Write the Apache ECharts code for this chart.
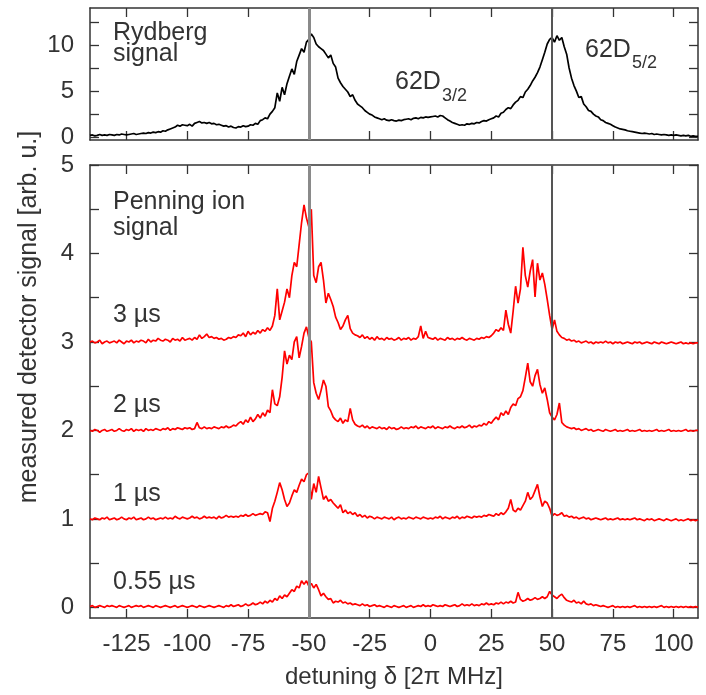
<!DOCTYPE html>
<html>
<head>
<meta charset="utf-8">
<script src="https://cdn.jsdelivr.net/npm/echarts@6/dist/echarts.min.js"></script>
<style>
  html, body { margin: 0; padding: 0; background: #fff; }
  #chart { width: 706px; height: 695px; }
</style>
</head>
<body>
<div id="chart"></div>
<script>
// detuning grid, 1 MHz steps from -140 to 110
const detuning = []
for (let d = -140; d <= 110; d++) detuning.push(d)

// top panel: Rydberg signal
const rydberg = [
  0.2,0.25,0.15,0.2,0.3,0.2,0.25,0.2,0.3,0.25,
  0.2,0.3,0.25,0.35,0.3,0.25,0.3,0.35,0.4,0.3,
  0.35,0.4,0.45,0.4,0.5,0.45,0.55,0.5,0.6,0.55,
  0.7,0.65,0.8,0.9,1.0,1.1,1.3,1.2,1.35,1.3,
  1.25,1.4,1.2,1.5,1.6,1.7,1.55,1.6,1.5,1.6,
  1.45,1.5,1.35,1.4,1.3,1.2,1.25,1.1,1.2,1.05,
  1.0,1.15,1.1,1.25,1.15,1.2,1.35,1.3,1.5,1.4,
  1.8,1.9,2.1,2.0,2.5,2.8,3.2,4.8,3.9,5.4,
  4.6,5.8,6.6,7.4,6.8,8.2,8.9,9.6,9.2,10.3,
  10.6,11.2,10.8,10.1,9.8,9.6,9.4,9.0,8.6,8.9,
  8.0,7.6,6.4,5.9,5.5,5.2,4.9,4.4,4.6,4.0,
  3.6,3.4,3.2,2.9,2.7,2.5,2.4,2.2,2.1,2.0,
  1.9,2.0,1.85,1.8,1.9,1.8,1.75,1.85,1.8,1.9,
  1.95,2.0,1.9,2.05,2.1,2.0,2.15,2.1,2.2,2.15,
  2.2,2.25,2.3,2.2,2.35,2.3,2.1,1.9,1.75,1.6,
  1.5,1.4,1.3,1.35,1.3,1.45,1.4,1.5,1.45,1.6,
  1.55,1.7,1.8,1.75,1.9,2.0,2.1,2.3,2.2,2.6,
  2.7,3.0,3.2,3.1,3.5,3.8,4.0,4.4,4.3,4.9,
  5.2,5.6,6.1,6.5,7.0,7.6,8.4,9.2,10.1,10.6,
  10.8,10.3,11.0,10.5,10.8,9.8,9.0,7.5,6.4,5.6,
  5.0,4.3,4.4,3.6,3.3,2.9,2.8,2.5,2.3,2.2,
  1.9,1.8,1.6,1.5,1.4,1.25,1.1,1.0,0.9,0.85,
  0.8,0.7,0.65,0.6,0.55,0.5,0.45,0.4,0.45,0.4,
  0.35,0.4,0.3,0.35,0.3,0.25,0.3,0.25,0.2,0.25,
  0.2,0.25,0.2,0.15,0.2,0.15,0.2,0.1,0.15,0.1,0.1
]

// bottom panel: Penning ion signal (curves offset by 3, 2, 1, 0)
const penning3us = [
  3.0,3.01,2.99,3.0,3.02,2.98,3.0,3.01,2.99,3.0,
  3.01,2.99,3.02,3.0,2.98,3.01,3.0,3.02,2.99,3.01,
  3.0,3.02,3.01,2.99,3.03,3.0,3.02,3.01,3.04,3.02,
  3.01,3.03,3.02,3.0,3.04,3.02,3.03,3.01,3.05,3.02,
  3.03,3.04,3.02,3.05,3.03,3.08,3.04,3.06,3.09,3.05,
  3.06,3.04,3.05,3.03,3.04,3.02,3.03,3.05,3.04,3.06,
  3.05,3.08,3.07,3.1,3.06,3.12,3.08,3.11,3.09,3.13,
  3.1,3.14,3.12,3.16,3.13,3.18,3.3,3.6,3.25,3.35,
  3.45,3.6,3.5,3.75,3.9,3.85,4.1,4.35,4.55,4.4,
  4.3,4.5,3.75,3.67,3.85,3.9,3.7,3.44,3.55,3.48,
  3.4,3.28,3.22,3.14,3.18,3.25,3.3,3.15,3.1,3.08,
  3.07,3.05,3.08,3.04,3.06,3.03,3.05,3.02,3.06,3.03,
  3.04,3.02,3.05,3.03,3.04,3.02,3.03,3.05,3.02,3.04,
  3.03,3.05,3.02,3.04,3.03,3.06,3.18,3.04,3.12,3.05,
  3.04,3.03,3.05,3.02,3.04,3.03,3.02,3.05,3.03,3.04,
  3.02,3.04,3.03,3.05,3.03,3.02,3.04,3.03,3.02,3.04,
  3.03,3.05,3.04,3.06,3.05,3.07,3.1,3.14,3.12,3.16,
  3.13,3.36,3.2,3.1,3.35,3.63,3.44,3.6,4.07,3.75,
  3.62,3.8,3.93,3.51,3.89,3.7,3.78,3.65,3.48,3.3,
  3.14,3.25,3.12,3.08,3.05,3.04,3.02,3.03,3.01,3.02,
  3.0,3.01,2.99,3.0,3.01,2.99,3.0,2.98,3.0,2.99,
  3.0,2.99,3.01,2.99,3.0,2.98,3.0,2.99,3.0,2.98,
  2.99,3.0,2.99,2.98,3.0,2.99,3.0,2.98,2.99,3.0,
  2.99,2.98,3.0,2.99,2.98,3.0,2.99,2.98,2.99,3.0,
  2.99,2.98,2.99,3.0,2.98,2.99,2.98,2.99,2.98,2.99,2.99
]
const penning2us = [
  2.0,1.99,2.01,2.0,1.98,2.0,2.01,1.99,2.0,2.01,
  1.99,2.0,2.02,2.0,1.99,2.01,2.0,2.02,1.99,2.01,
  2.0,2.01,1.99,2.02,2.0,2.01,2.0,2.02,2.01,2.0,
  2.02,2.01,2.03,2.0,2.02,2.01,2.03,2.02,2.01,2.03,
  2.02,2.03,2.01,2.02,2.09,2.03,2.02,2.04,2.02,2.03,
  2.02,2.04,2.03,2.02,2.04,2.03,2.05,2.03,2.04,2.06,
  2.05,2.08,2.1,2.07,2.12,2.09,2.15,2.1,2.13,2.18,
  2.14,2.2,2.16,2.23,2.2,2.46,2.3,2.28,2.38,2.6,
  2.9,2.75,2.85,2.8,3.0,3.06,2.82,2.95,3.1,3.17,
  3.05,3.0,2.54,2.42,2.35,2.45,2.57,2.5,2.27,2.22,
  2.15,2.12,2.1,2.14,2.08,2.12,2.1,2.25,2.12,2.07,
  2.05,2.04,2.06,2.03,2.05,2.02,2.04,2.03,2.02,2.04,
  2.02,2.03,2.01,2.04,2.02,2.03,2.01,2.02,2.04,2.02,
  2.03,2.02,2.04,2.03,2.05,2.02,2.04,2.03,2.02,2.04,
  2.03,2.05,2.02,2.04,2.03,2.02,2.04,2.03,2.05,2.03,
  2.02,2.04,2.03,2.05,2.03,2.04,2.06,2.03,2.05,2.04,
  2.06,2.05,2.08,2.06,2.1,2.08,2.12,2.15,2.12,2.2,
  2.17,2.22,2.18,2.26,2.3,2.28,2.36,2.38,2.45,2.6,
  2.76,2.55,2.5,2.62,2.69,2.52,2.42,2.48,2.35,2.2,
  2.15,2.12,2.18,2.31,2.09,2.06,2.04,2.03,2.02,2.03,
  2.01,2.02,2.0,2.01,2.02,2.0,2.01,1.99,2.0,2.01,
  2.0,1.99,2.01,2.0,1.99,2.0,2.01,1.99,2.0,1.99,
  2.0,2.01,1.99,2.0,1.99,2.0,2.01,1.99,2.0,1.99,
  2.0,1.99,2.0,2.01,1.99,2.0,1.99,2.0,2.01,1.99,
  2.0,1.99,2.0,1.99,2.0,2.01,1.99,2.0,1.99,2.0,2.0
]
const penning1us = [
  1.0,0.99,1.01,1.0,0.99,1.01,1.0,1.02,0.99,1.0,
  1.01,0.99,1.0,1.02,1.0,0.99,1.01,1.0,1.02,0.99,
  1.0,1.01,0.99,1.0,1.02,1.0,1.01,0.99,1.0,1.01,
  1.0,1.02,1.0,1.01,1.0,1.03,1.01,1.0,1.02,1.01,
  1.0,1.01,1.03,1.01,1.02,1.0,1.01,1.03,1.01,1.02,
  1.01,1.02,1.0,1.03,1.01,1.02,1.04,1.02,1.03,1.02,
  1.03,1.02,1.04,1.03,1.05,1.03,1.04,1.06,1.04,1.05,
  1.06,1.05,1.08,1.07,0.97,1.12,1.2,1.3,1.41,1.33,
  1.22,1.14,1.18,1.26,1.33,1.3,1.38,1.45,1.42,1.5,
  1.52,1.22,1.4,1.3,1.48,1.35,1.22,1.26,1.2,1.22,
  1.18,1.15,1.12,1.16,1.07,1.1,1.06,1.08,1.05,1.07,
  1.03,1.05,1.02,1.04,1.01,1.03,1.02,1.0,1.02,1.01,
  1.0,1.02,1.01,1.0,1.02,0.99,1.01,1.02,1.0,1.01,
  1.0,1.02,1.01,1.0,1.02,1.01,1.0,1.02,1.01,1.0,
  1.01,1.0,1.02,1.01,1.03,1.0,1.02,1.01,1.0,1.02,
  1.01,1.03,1.0,1.02,1.01,1.03,1.02,1.01,1.03,1.02,
  1.03,1.02,1.04,1.03,1.05,1.04,1.03,1.06,1.04,1.07,
  1.05,1.08,1.12,1.22,1.1,1.08,1.12,1.1,1.15,1.2,
  1.3,1.22,1.25,1.32,1.39,1.25,1.14,1.2,1.18,1.12,
  1.03,1.06,1.04,1.05,1.07,1.03,1.04,1.02,1.03,1.01,
  1.02,1.0,1.01,1.02,1.0,1.01,0.99,1.0,1.01,1.0,
  0.99,1.0,1.01,0.99,1.0,0.99,1.0,1.01,0.99,1.0,
  0.99,1.0,0.99,1.0,1.01,0.99,1.0,0.99,0.98,1.0,
  0.99,1.0,0.98,0.99,1.0,0.99,0.98,1.0,0.99,0.98,
  0.99,1.0,0.98,0.99,0.98,0.99,1.0,0.98,0.99,0.98,0.99
]
const penning055us = [
  0.01,0.02,0.0,0.01,0.02,0.01,0.0,0.02,0.01,0.02,
  0.01,0.0,0.02,0.01,0.0,0.01,0.02,0.0,0.01,0.02,
  0.01,0.02,0.0,0.01,0.02,0.01,0.0,0.02,0.01,0.0,
  0.01,0.02,0.01,0.0,0.01,0.02,0.0,0.01,0.02,0.01,
  0.0,0.01,0.02,0.01,0.0,0.02,0.01,0.0,0.01,0.02,
  0.01,0.0,0.01,0.02,0.01,0.0,0.02,0.01,0.03,0.01,
  0.02,0.03,0.01,0.02,0.04,0.02,0.03,0.05,0.03,0.04,
  0.06,0.04,0.07,0.05,0.08,0.06,0.1,0.08,0.13,0.1,
  0.14,0.12,0.16,0.2,0.18,0.24,0.22,0.3,0.26,0.3,
  0.24,0.27,0.22,0.26,0.2,0.13,0.16,0.12,0.09,0.1,
  0.05,0.07,0.06,0.08,0.05,0.06,0.04,0.05,0.03,0.04,
  0.03,0.02,0.04,0.02,0.03,0.01,0.02,0.03,0.01,0.02,
  0.01,0.0,0.02,0.01,0.0,0.02,0.01,0.0,0.01,0.02,
  0.0,0.01,0.02,0.0,0.01,0.02,0.01,0.03,0.01,0.02,
  0.01,0.03,0.02,0.01,0.02,0.01,0.03,0.02,0.01,0.02,
  0.03,0.01,0.02,0.04,0.02,0.03,0.02,0.04,0.02,0.03,
  0.02,0.04,0.03,0.05,0.03,0.04,0.03,0.05,0.04,0.06,
  0.04,0.06,0.05,0.07,0.05,0.06,0.17,0.09,0.07,0.08,
  0.1,0.08,0.09,0.11,0.09,0.1,0.12,0.1,0.12,0.18,
  0.14,0.12,0.1,0.13,0.15,0.11,0.08,0.07,0.06,0.08,
  0.05,0.06,0.04,0.07,0.04,0.03,0.04,0.02,0.03,0.02,
  0.01,0.02,0.01,0.0,0.01,0.02,0.0,0.01,0.0,0.01,
  0.0,0.01,0.0,0.01,0.02,0.0,0.01,0.0,0.01,0.0,
  0.01,0.0,0.01,0.0,0.01,0.02,0.0,0.01,0.0,0.01,
  0.0,0.01,0.0,0.01,0.0,0.01,0.0,0.01,0.0,0.01,0.0
]

// ticks and labels
const xTicks = [-125, -100, -75, -50, -25, 0, 25, 50, 75, 100]
const topYTicks = [0, 2.5, 5, 7.5, 10, 12.5]
const topYLabels = [0, 5, 10]
const botYTicks = [0, 0.5, 1, 1.5, 2, 2.5, 3, 3.5, 4, 4.5, 5]
const botYLabels = [0, 1, 2, 3, 4, 5]
const lineCenters = [-50, 50]

const FONT = 'Liberation Sans, Arial, Helvetica, sans-serif'
const AXIS_COLOR = '#333'
const TEXT_COLOR = '#333'

const pairs = vals => detuning.map((d, i) => [d, vals[i]])

function xAxisCfg(gridIndex, position, labels) {
  return {
    type: 'value',
    gridIndex,
    position,
    min: -140,
    max: 110,
    axisLine: { show: true, onZero: false, lineStyle: { color: AXIS_COLOR, width: 1.5 } },
    axisTick: { show: true, inside: true, length: 9, customValues: xTicks, lineStyle: { color: AXIS_COLOR, width: 1.3 } },
    axisLabel: {
      show: labels,
      customValues: xTicks,
      margin: 14,
      color: TEXT_COLOR,
      fontFamily: FONT,
      fontSize: 24
    },
    splitLine: { show: false }
  }
}

function yAxisCfg(gridIndex, position, min, max, ticks, labels) {
  return {
    type: 'value',
    gridIndex,
    position,
    min,
    max,
    axisLine: { show: true, onZero: false, lineStyle: { color: AXIS_COLOR, width: 1.5 } },
    axisTick: { show: true, inside: true, length: 9, customValues: ticks, lineStyle: { color: AXIS_COLOR, width: 1.3 } },
    axisLabel: {
      show: !!labels,
      customValues: labels || [],
      margin: 16,
      color: TEXT_COLOR,
      fontFamily: FONT,
      fontSize: 24
    },
    splitLine: { show: false }
  }
}

function lineSeries(name, vals, axisIndex, color) {
  return {
    name,
    type: 'line',
    xAxisIndex: axisIndex,
    yAxisIndex: axisIndex,
    data: pairs(vals),
    showSymbol: false,
    symbol: 'none',
    animation: false,
    silent: true,
    lineStyle: { color, width: 1.7 }
  }
}

const centerMarks = {
  symbol: ['none', 'none'],
  silent: true,
  animation: false,
  label: { show: false },
  data: [
    { xAxis: lineCenters[0], lineStyle: { color: '#8a8a8a', width: 3, type: 'solid' } },
    { xAxis: lineCenters[1], lineStyle: { color: '#555', width: 2, type: 'solid' } }
  ]
}

function label(text, x, y, size) {
  return {
    type: 'text',
    x, y,
    silent: true,
    style: { text, fill: TEXT_COLOR, font: `${size || 25}px ${FONT}`, verticalAlign: 'top' }
  }
}

const chart = echarts.init(document.getElementById('chart'))

const series = [
  lineSeries('Rydberg', rydberg, 0, '#000'),
  lineSeries('3 µs', penning3us, 2, '#ff0000'),
  lineSeries('2 µs', penning2us, 2, '#ff0000'),
  lineSeries('1 µs', penning1us, 2, '#ff0000'),
  lineSeries('0.55 µs', penning055us, 2, '#ff0000')
]
series[0].markLine = centerMarks
series[4].markLine = centerMarks

chart.setOption({
  backgroundColor: '#fff',
  animation: false,
  grid: [
    { left: 90, top: 8, width: 608, height: 132 },
    { left: 90, top: 165, width: 608, height: 453 }
  ],
  xAxis: [
    xAxisCfg(0, 'bottom', false),
    xAxisCfg(0, 'top', false),
    xAxisCfg(1, 'bottom', true),
    xAxisCfg(1, 'top', false)
  ],
  yAxis: [
    yAxisCfg(0, 'left', -0.3, 14, topYTicks, topYLabels),
    yAxisCfg(0, 'right', -0.3, 14, topYTicks, null),
    yAxisCfg(1, 'left', -0.12, 5, botYTicks, botYLabels),
    yAxisCfg(1, 'right', -0.12, 5, botYTicks, null)
  ],
  series,
  graphic: [
    label('Rydberg', 113, 21),
    label('signal', 113, 42),
    label('62D', 395, 70),
    label('3/2', 442, 87, 18),
    label('62D', 585, 38),
    label('5/2', 632, 54, 18),
    label('Penning ion', 113, 190),
    label('signal', 113, 216),
    label('3 µs', 113, 303),
    label('2 µs', 113, 393),
    label('1 µs', 113, 482),
    label('0.55 µs', 113, 570),
    {
      type: 'text',
      x: 394, y: 665,
      silent: true,
      style: { text: 'detuning δ [2π MHz]', fill: TEXT_COLOR, font: `24px ${FONT}`, align: 'center', verticalAlign: 'top' }
    },
    {
      type: 'text',
      x: 29, y: 317,
      rotation: Math.PI / 2,
      silent: true,
      style: { text: 'measured detector signal [arb. u.]', fill: TEXT_COLOR, font: `25px ${FONT}`, align: 'center', verticalAlign: 'middle' }
    }
  ]
})
</script>
</body>
</html>
